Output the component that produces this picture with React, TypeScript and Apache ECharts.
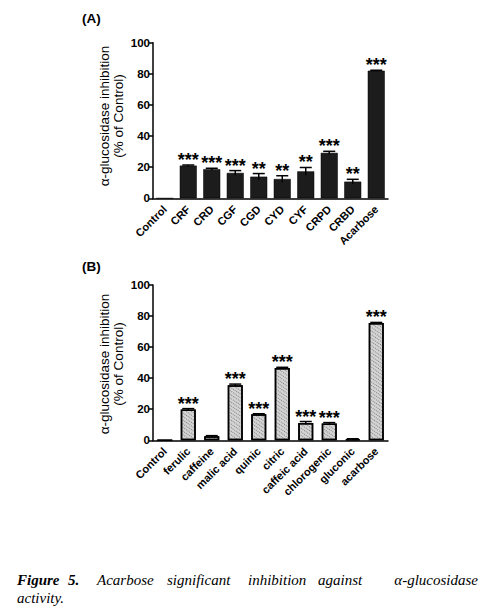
import React, { useEffect, useRef } from "react";
import * as echarts from "echarts";

const catsA = ["Control", "CRF", "CRD", "CGF", "CGD", "CYD", "CYF", "CRPD", "CRBD", "Acarbose"];
const valsA = [0, 21, 18.7, 16.3, 13.9, 12.4, 17.3, 29.2, 10.7, 82];
const errA = [0, 0.4, 0.6, 1.5, 2.0, 2.1, 2.5, 1.0, 1.5, 0.3];
const starsA = ["", "***", "***", "***", "**", "**", "**", "***", "**", "***"];

const catsB = ["Control", "ferulic", "caffeine", "malic acid", "quinic", "citric", "caffeic acid", "chlorogenic", "gluconic", "acarbose"];
const valsB = [0, 19.8, 2.6, 35.5, 16.7, 46.5, 11.2, 10.8, 0.7, 75.5];
const errB = [0, 0.6, 0.4, 0.7, 0.4, 0.5, 0.9, 0.6, 0.3, 0.4];
const starsB = ["", "***", "", "***", "***", "***", "***", "***", "", "***"];

const yTicks = [0, 20, 40, 60, 80, 100];
const yName1 = "α-glucosidase inhibition";
const yName2 = "(% of Control)";

const captionLead = ["Figure", "5."];
const captionWords = ["Acarbose", "significant", "inhibition", "against", "α-glucosidase"];
const captionLine2 = "activity.";

const SANS = "'Liberation Sans', Arial, Helvetica, sans-serif";
const SERIF = "'Liberation Serif', 'Times New Roman', serif";

function errSeries(idx: number, vals: number[], errs: number[], stars: string[]) {
  return {
    type: "custom",
    xAxisIndex: idx,
    yAxisIndex: idx,
    z: 5,
    data: vals.map((v, i) => [i, v, errs[i]]),
    renderItem: (params: any, api: any) => {
      const i = api.value(0);
      const v = api.value(1);
      const e = api.value(2);
      const top = api.coord([i, v + e]);
      const bot = api.coord([i, v - e]);
      const children: any[] = [];
      if (e > 0) {
        children.push({
          type: "line",
          shape: { x1: top[0], y1: top[1], x2: bot[0], y2: bot[1] },
          style: { stroke: "#000", lineWidth: 1.5 },
        });
        children.push({
          type: "line",
          shape: { x1: top[0] - 6, y1: top[1], x2: top[0] + 6, y2: top[1] },
          style: { stroke: "#000", lineWidth: 1.5 },
        });
      }
      const s = stars[params.dataIndex];
      if (s) {
        children.push({
          type: "text",
          x: top[0],
          y: top[1] - 5,
          style: {
            text: s,
            fill: "#000",
            font: `bold 18px ${SANS}`,
            align: "center",
            verticalAlign: "middle",
          },
        });
      }
      return { type: "group", children };
    },
  };
}

export default function App() {
  const ref = useRef<HTMLDivElement>(null);
  useEffect(() => {
    if (!ref.current) return;
    const chart = echarts.init(ref.current, null, { renderer: "svg" });

    const xAxisCommon = (cats: string[], gi: number) => ({
      type: "category",
      gridIndex: gi,
      data: cats,
      axisLine: { lineStyle: { color: "#000", width: 1.5 } },
      axisTick: { alignWithLabel: true, length: 4, lineStyle: { color: "#000", width: 1.5 } },
      axisLabel: {
        rotate: 45,
        interval: 0,
        margin: 9,
        color: "#000",
        fontFamily: SANS,
        fontWeight: "bold",
        fontSize: 11,
      },
    });
    const yAxisCommon = (gi: number) => ({
      type: "value",
      gridIndex: gi,
      min: yTicks[0],
      max: yTicks[yTicks.length - 1],
      interval: 20,
      splitLine: { show: false },
      axisLine: { show: true, lineStyle: { color: "#000", width: 1.5 } },
      axisTick: { show: true, length: 4, lineStyle: { color: "#000", width: 1.5 } },
      axisLabel: { margin: 3, color: "#000", fontFamily: SANS, fontWeight: "bold", fontSize: 11.5 },
    });

    const captionX = [97, 167, 248, 318];
    const leadX = [17, 68];
    const capY1 = 587;
    const capY2 = 605;

    chart.setOption({
      animation: false,
      backgroundColor: "#fff",
      grid: [
        { left: 153, top: 42.7, width: 235, height: 155.6 },
        { left: 153, top: 285, width: 235, height: 155.3 },
      ],
      xAxis: [xAxisCommon(catsA, 0), xAxisCommon(catsB, 1)],
      yAxis: [yAxisCommon(0), yAxisCommon(1)],
      series: [
        {
          type: "bar",
          xAxisIndex: 0,
          yAxisIndex: 0,
          data: valsA,
          barWidth: 17,
          itemStyle: { color: "#1c1c1c", borderColor: "#000", borderWidth: 0.5 },
        },
        {
          type: "bar",
          xAxisIndex: 1,
          yAxisIndex: 1,
          data: valsB,
          barWidth: 15,
          itemStyle: {
            color: "#d4d4d4",
            borderColor: "#000",
            borderWidth: 1.5,
            decal: {
              symbol: "rect",
              symbolSize: 1,
              color: "rgba(60,60,60,0.55)",
              dashArrayX: [1, 1],
              dashArrayY: [1, 2],
              rotation: 0.6,
            },
          },
        },
        errSeries(0, valsA, errA, starsA),
        errSeries(1, valsB, errB, starsB),
      ],
      graphic: [
        { type: "text", left: 82, top: 11, style: { text: "(A)", font: `bold 13.5px ${SANS}`, fill: "#000" } },
        { type: "text", left: 82, top: 259, style: { text: "(B)", font: `bold 13.5px ${SANS}`, fill: "#000" } },
        { type: "text", x: 104, y: 116, rotation: Math.PI / 2, style: { text: yName1, font: `13.5px ${SANS}`, fill: "#000", align: "center", verticalAlign: "middle" } },
        { type: "text", x: 118, y: 116, rotation: Math.PI / 2, style: { text: yName2, font: `13.5px ${SANS}`, fill: "#000", align: "center", verticalAlign: "middle" } },
        { type: "text", x: 104, y: 364, rotation: Math.PI / 2, style: { text: yName1, font: `13.5px ${SANS}`, fill: "#000", align: "center", verticalAlign: "middle" } },
        { type: "text", x: 118, y: 364, rotation: Math.PI / 2, style: { text: yName2, font: `13.5px ${SANS}`, fill: "#000", align: "center", verticalAlign: "middle" } },
        ...captionLead.map((w, i) => ({
          type: "text",
          x: leadX[i],
          y: capY1,
          style: { text: w, font: `italic bold 15px ${SERIF}`, fill: "#000", verticalAlign: "bottom" },
        })),
        ...captionWords.slice(0, 4).map((w, i) => ({
          type: "text",
          x: captionX[i],
          y: capY1,
          style: { text: w, font: `italic 15px ${SERIF}`, fill: "#000", verticalAlign: "bottom" },
        })),
        { type: "text", x: 478, y: capY1, style: { text: captionWords[4], font: `italic 15px ${SERIF}`, fill: "#000", align: "right", verticalAlign: "bottom" } },
        { type: "text", x: 17, y: capY2, style: { text: captionLine2, font: `italic 15px ${SERIF}`, fill: "#000", verticalAlign: "bottom" } },
      ],
    });
    return () => chart.dispose();
  }, []);
  return (
    <div
      ref={ref}
      style={{ position: "absolute", left: 0, top: 0, width: 484, height: 614, background: "#fff" }}
    />
  );
}
